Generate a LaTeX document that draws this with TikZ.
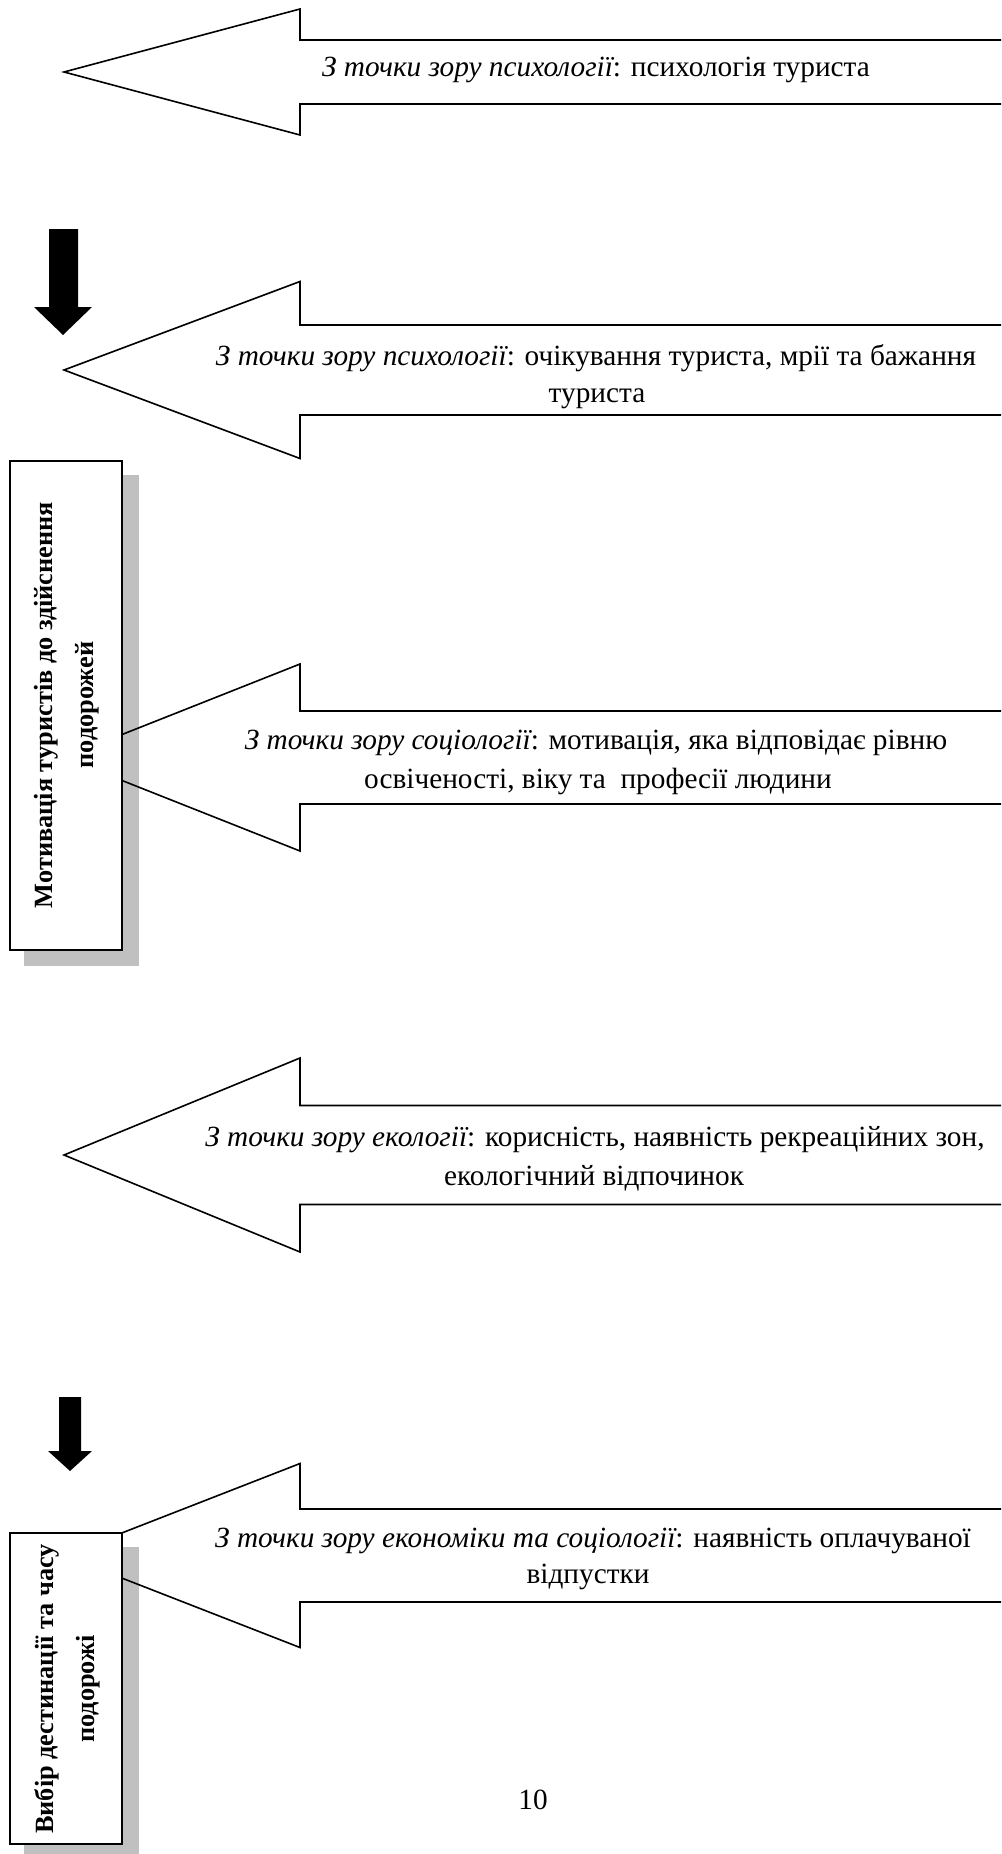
\documentclass[tikz,border=0pt]{standalone}
\usepackage{fontspec}
\setmainfont{Liberation Serif}
\definecolor{shadegray}{RGB}{192,192,192}
\tikzset{
  outline/.style={line width=1.6pt, line join=miter},
  lbl/.style={anchor=base, inner sep=0pt, font=\fontsize{29.3}{38}\selectfont},
  boxtext/.style={rotate=90, align=center, inner sep=0pt, font=\bfseries\fontsize{26.3}{41}\selectfont},
  framebox/.style={draw, line width=1.6pt, fill=white},
  shadowbox/.style={fill=shadegray, draw=none},
  downarrow/.style={fill=black, draw=none},
}
\newcommand\bigleft[3]{%
  \draw[outline] (1012,{#1-#3}) -- (300,{#1-#3}) -- (300,{#1-#2}) -- (64,#1)
     -- (300,{#1+#2}) -- (300,{#1+#3}) -- (1012,{#1+#3});}
\begin{document}
\begin{tikzpicture}[x=1pt,y=-1pt]
\useasboundingbox (0,0) rectangle (1001,1854);
\clip (0,0) rectangle (1001,1854);
% shadows
\fill[shadowbox] (24,475) rectangle (139,966);
\fill[shadowbox] (24,1547) rectangle (139,1860);
% big outline arrows
\bigleft{72}{63}{32}
\bigleft{370}{88.5}{45}
\bigleft{757.5}{93.5}{46.5}
\bigleft{1155}{97}{49.5}
\bigleft{1555.5}{92}{46.5}
% black down arrows
\fill[downarrow] (49,229) -- (78,229) -- (78,307) -- (92,307) -- (63,335) -- (34,307) -- (49,307) -- cycle;
\fill[downarrow] (59,1397) -- (81,1397) -- (81,1451) -- (92,1451) -- (70,1471) -- (48,1451) -- (59,1451) -- cycle;
% boxes
\draw[framebox] (10,461) rectangle (122,950);
\draw[framebox] (10,1533) rectangle (122,1844);
\coordinate (box1c) at (67,705);
\coordinate (box2c) at (67,1689);
\node[boxtext] (box1text) at (box1c) {Мотивація туристів до здійснення\\подорожей};
\node[boxtext] (box2text) at (box2c) {Вибір дестинації та часу\\подорожі};
% arrow texts
\node[lbl] (t1) at (596,77) {{\itshape З точки зору психології}: психологія туриста};
\node[lbl] (t2a) at (596,365) {{\itshape З точки зору психології}: очікування туриста, мрії та бажання};
\node[lbl] (t2b) at (597,402) {туриста};
\node[lbl] (t3a) at (596,749) {{\itshape З точки зору соціології}: мотивація, яка відповідає рівню};
\node[lbl] (t3b) at (598,788) {освіченості, віку та~ професії людини};
\node[lbl] (t4a) at (595,1146) {{\itshape З точки зору екології}: корисність, наявність рекреаційних зон,};
\node[lbl] (t4b) at (594,1185) {екологічний відпочинок};
\node[lbl] (t5a) at (593,1547) {{\itshape З точки зору економіки та соціології}: наявність оплачуваної};
\node[lbl] (t5b) at (588,1583) {відпустки};
\node[lbl] (pagenum) at (533,1809) {10};
\end{tikzpicture}
\end{document}
